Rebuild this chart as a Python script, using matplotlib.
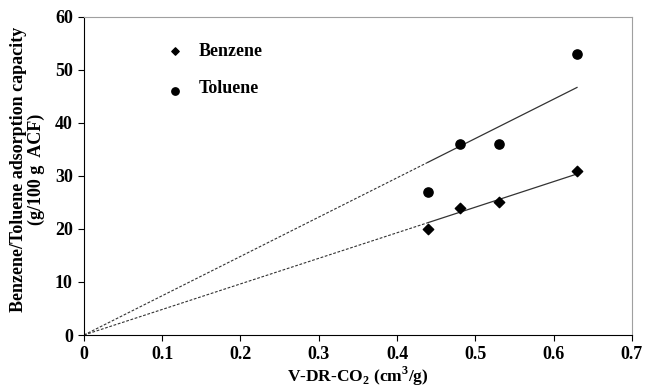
import numpy as np
import matplotlib.pyplot as plt

# data
v_dr_co2 = [0.44, 0.48, 0.53, 0.63]
benzene = [20, 24, 25, 31]
toluene = [27, 36, 36, 53]

plt.rcParams['font.family'] = ['Liberation Serif', 'DejaVu Serif']
plt.rcParams['font.weight'] = 'bold'
plt.rcParams['mathtext.fontset'] = 'custom'
plt.rcParams['mathtext.rm'] = 'Liberation Serif:bold'

fig = plt.figure(figsize=(6.46, 3.90), dpi=100)
ax = fig.add_axes([0.130, 0.141, 0.848, 0.816])

x = np.array(v_dr_co2)
# fit through origin, solid over the data range, dotted back to zero
for y in (benzene, toluene):
    k = np.sum(x * np.array(y)) / np.sum(x * x)
    ax.plot([0, x.min()], [0, k * x.min()], color='#333333', lw=0.8, ls=(0, (2.5, 1.5)))
    ax.plot([x.min(), x.max()], [k * x.min(), k * x.max()], color='#333333', lw=0.9)

ax.scatter(v_dr_co2, benzene, marker='D', s=28, color='black', zorder=3)
ax.scatter(v_dr_co2, toluene, marker='o', s=44, color='black', zorder=3)

# in-plot legend
ax.scatter([0.116], [53.5], marker='D', s=14, color='black')
ax.text(0.146, 53.5, 'Benzene', va='center', fontsize=13, fontweight='bold')
ax.scatter([0.116], [46.0], marker='o', s=28, color='black')
ax.text(0.146, 46.5, 'Toluene', va='center', fontsize=13, fontweight='bold')

ax.set_xlim(0, 0.7)
ax.set_ylim(0, 60)
ax.set_xticks(np.arange(0, 0.71, 0.1))
ax.set_xticklabels(['0', '0.1', '0.2', '0.3', '0.4', '0.5', '0.6', '0.7'])
ax.set_yticks(range(0, 61, 10))
ax.tick_params(direction='out', length=4, width=0.8, labelsize=13)
ax.tick_params(axis='x', pad=4)
ax.tick_params(axis='y', pad=4)
for lab in ax.get_xticklabels() + ax.get_yticklabels():
    lab.set_fontweight('bold')

ax.spines['left'].set_color('black')
ax.spines['bottom'].set_color('black')
ax.spines['top'].set_color('#a0a0a0')
ax.spines['right'].set_color('#a0a0a0')

ax.set_xlabel(r'V-DR-CO$_2$ (cm$^3$/g)', fontsize=12.5, fontweight='bold', labelpad=1)
ax.set_ylabel('Benzene/Toluene adsorption capacity\n(g/100 g  ACF)', fontsize=13,
              fontweight='bold', linespacing=1.05)
ax.yaxis.set_label_coords(-0.071, 0.52)

fig.savefig('out.png', dpi=100)
